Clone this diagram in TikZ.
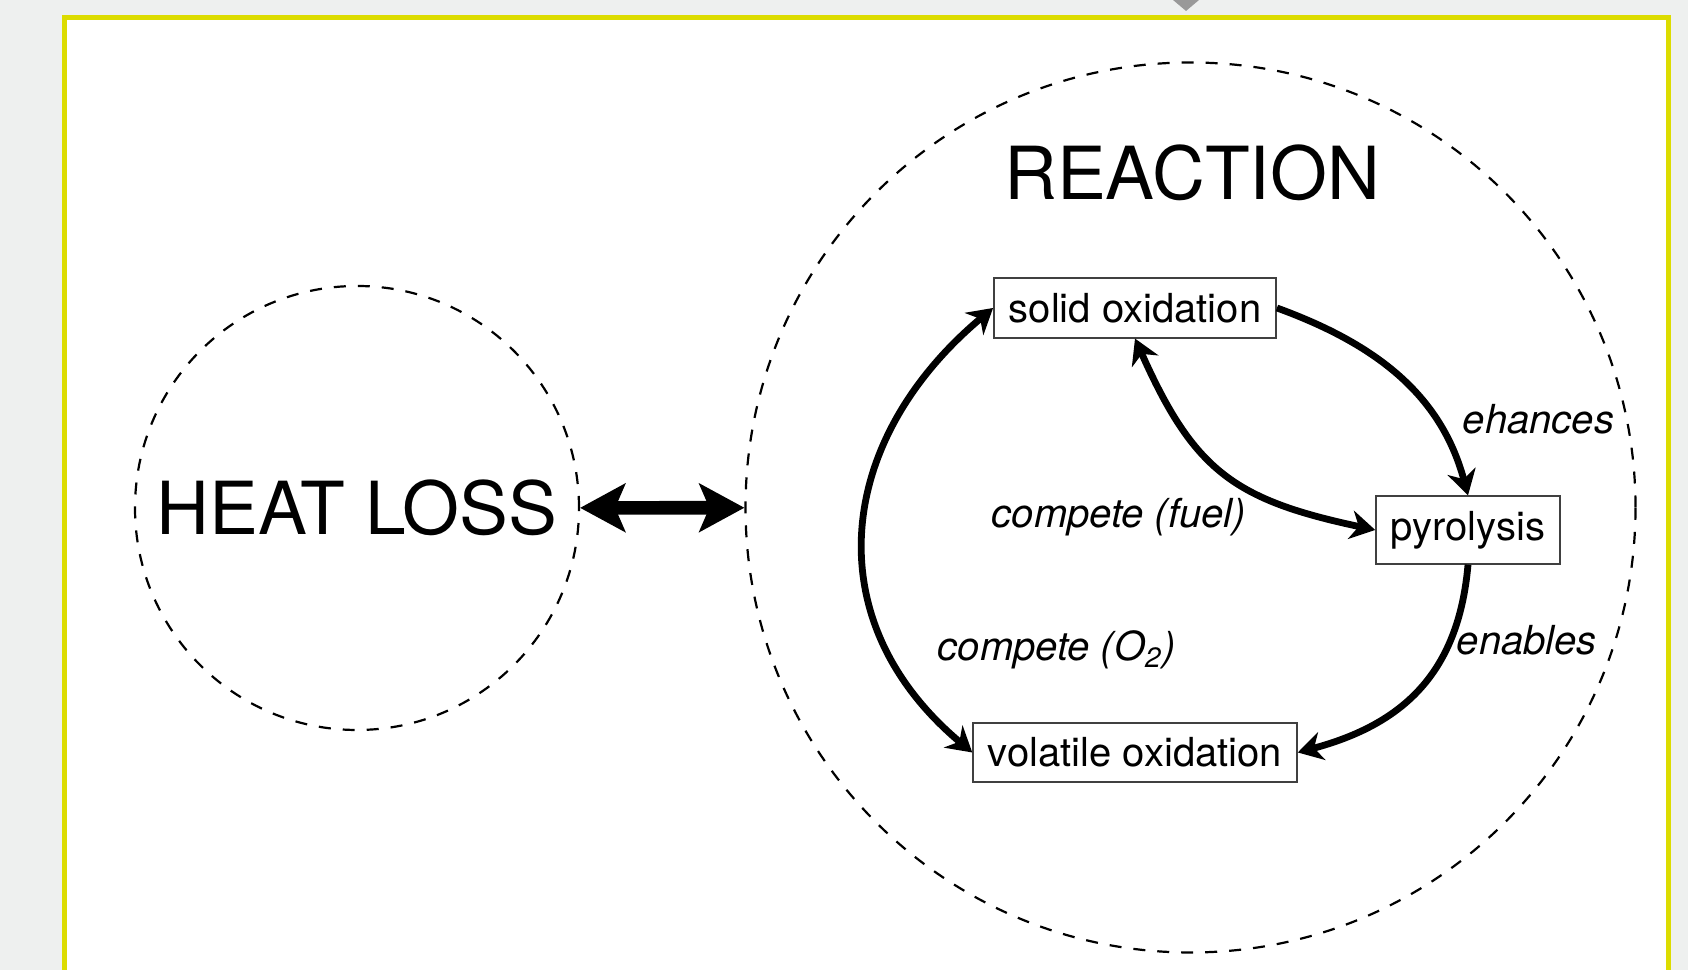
\documentclass[tikz,border=0pt]{standalone}
\usepackage{fontspec}
\setmainfont{TeX Gyre Heros}
\usetikzlibrary{arrows.meta}
\definecolor{framey}{RGB}{220,220,0}
\definecolor{screen}{RGB}{238,240,239}
\tikzstyle{zone}=[circle, draw, dashed, line width=0.55pt, inner sep=0pt]
\tikzstyle{title}=[font=\fontsize{18.3}{21}\selectfont]
\tikzstyle{process}=[draw=black!75, line width=0.45pt, inner sep=3.7pt, font=\fontsize{10}{12}\selectfont]
\tikzstyle{effect}=[anchor=base west, inner sep=0pt, font=\fontsize{10}{12}\selectfont\itshape]
\tikzstyle{link}=[line width=1.7pt]
\tikzstyle{exchange}=[line width=3.4pt, {Stealth[length=11.25pt, width=12pt, inset=2.5pt]}-{Stealth[length=11.25pt, width=12pt, inset=2.5pt]}]

\begin{document}
\begin{tikzpicture}[x=0.25pt, y=0.25pt, >={Stealth[length=6.2pt, width=7.2pt, inset=2pt]}]
                    \useasboundingbox (0, 0) rectangle (1688, 970);
                    \clip (0, 0) rectangle (1688, 970);
                    \fill[screen] (0, 0) rectangle (1688, 970);
                    \filldraw[fill=white, draw=framey, line width=1.25pt] (64, -40) rectangle (1668.5, 952);
                    \fill[black!40] (1173, 970) -- (1199, 970) -- (1186, 959) -- cycle;

                    \node[zone, title, minimum size=111pt] (heat) at (357, 462) {HEAT LOSS};
                    \node[zone, minimum size=222.5pt] (reaction) at (1190.5, 462.5) {};
                    \node[title] (reactiontitle) at (1192, 797) {REACTION};
                    \draw[exchange] (heat) -- (reaction);

                    \node[process] (solid) at (1135, 662) {solid oxidation};
                    \node[process] (pyro) at (1468, 440) {pyrolysis};
                    \node[process] (volatile) at (1135, 217.5) {volatile oxidation};

                    \draw[link, ->] (solid.east) to[out=-20, in=105] (pyro.north);
                    \draw[link, ->] (pyro.south) to[out=-95, in=15, looseness=1.1] (volatile.east);
                    \draw[link, <->] (solid.south) to[out=-66, in=168, looseness=1.2] (pyro.west);
                    \draw[link, <->] (solid.west) to[out=220, in=140, looseness=1.18] (volatile.west);

                    \node[effect] (enh) at (1462, 536.7) {ehances};
                    \node[effect] (ena) at (1456, 315) {enables};
                    \node[effect] (fuel) at (991, 442) {compete (fuel)};
                    \node[effect] (oxy) at (937, 309) {compete (O\textsubscript{2})};
                \end{tikzpicture}
\end{document}
